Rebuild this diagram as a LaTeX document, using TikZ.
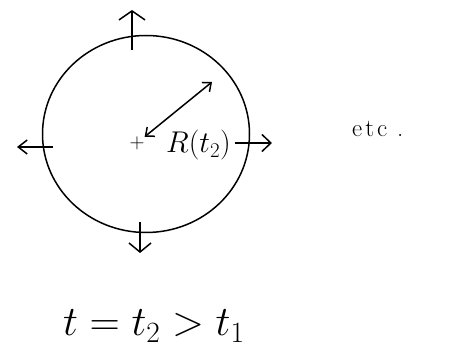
\RequirePackage{fix-cm}
\documentclass[tikz,border=0pt]{standalone}
\usetikzlibrary{shapes.geometric,arrows.meta}
\begin{document}
\begin{tikzpicture}[x=1pt,y=-1pt,
  ink/.style={line width=1.5pt,black},
  arr/.style={ink,-{Straight Barb[length=9pt,width=#1]}},
  arr/.default=18pt,
  lbl/.style={inner sep=0pt,anchor=base west}]
\useasboundingbox (0,0) rectangle (450,347);
\node[ink,draw,ellipse,minimum width=207pt,minimum height=197pt,inner sep=0pt] (circ) at (146,134) {};
\node[inner sep=0pt,font=\huge] (ctr) at (137,143) {$+$};
\coordinate (rend) at (212,82);
\draw[ink,{Straight Barb[length=7pt,width=12pt]}-{Straight Barb[length=7pt,width=12pt]}] (ctr) -- (rend);
\coordinate (t0) at (132,50); \coordinate (t1) at (132,10);
\coordinate (l0) at (53,147); \coordinate (l1) at (17,147);
\coordinate (r0) at (235,143); \coordinate (r1) at (272,143);
\coordinate (b0) at (140,222); \coordinate (b1) at (140,253);
\draw[arr=26pt] (t0) -- (t1);
\draw[arr=14pt] (l0) -- (l1);
\draw[arr=17pt] (r0) -- (r1);
\draw[arr=22pt] (b0) -- (b1);
\node[lbl,font=\fontsize{30}{34}\selectfont] (R) at (166,153) {$R(t_2)$};
\node[lbl,font=\Huge] (etc) at (352,137) {e\kern3pt t\kern3pt c\kern10pt .};
\node[lbl,font=\fontsize{42}{46}\selectfont] (eq) at (63,336) {$t=t_2>t_1$};
\end{tikzpicture}
\end{document}
